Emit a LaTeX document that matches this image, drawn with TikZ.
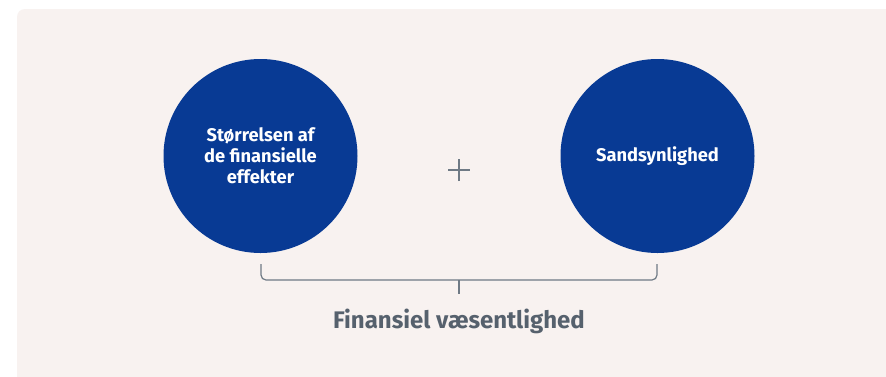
\documentclass[tikz,border=0pt]{standalone}
\usepackage{fontspec}
\setmainfont{Fira Sans}
\definecolor{bgpanel}{HTML}{F8F2F0}
\definecolor{circblue}{HTML}{083A94}
\definecolor{brgray}{HTML}{6F7A85}
\definecolor{txtgray}{HTML}{56616D}
\begin{document}
\begin{tikzpicture}[x=1pt,y=-1pt,
  bubble/.style={circle,fill=circblue,minimum size=194pt,inner sep=0pt,text=white,font=\bfseries\fontsize{18.3}{21}\selectfont,align=center},
  brline/.style={draw=brgray,line width=1.2pt},
  plusline/.style={draw=brgray,line width=1.1pt}]
\useasboundingbox (0,0) rectangle (886,376);
\fill[white] (0,0) rectangle (886,376);
\fill[bgpanel,rounded corners=8pt] (17,9) rectangle (900,390);
\node[bubble] (left) at (260.5,156) {Størrelsen af\\de finansielle\\effekter};
\node[bubble] (right) at (657.5,156) {Sandsynlighed};
\coordinate (plus) at (459,170);
\draw[plusline] ([xshift=-11pt]plus) -- ([xshift=11pt]plus);
\draw[plusline] ([yshift=-11pt]plus) -- ([yshift=11pt]plus);
\coordinate (bl) at (261,264);
\coordinate (br) at (657,264);
\draw[brline,rounded corners=5pt] (bl) -- (261,280) -- (657,280) -- (br);
\coordinate (tk) at (459,280);
\node[font=\bfseries\fontsize{24}{26}\selectfont,text=txtgray] (label) at (459,321) {Finansiel væsentlighed};
\draw[brline] (tk) -- (459,294);
\end{tikzpicture}
\end{document}
